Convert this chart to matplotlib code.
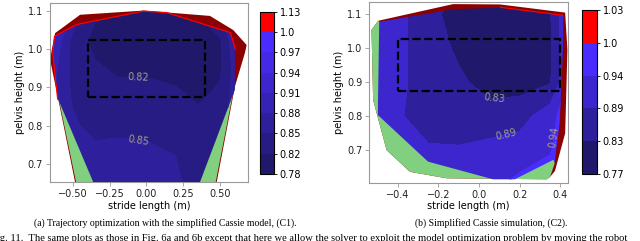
import numpy as np
import matplotlib
matplotlib.use('Agg')
import matplotlib.pyplot as plt
from matplotlib.patches import Polygon, Rectangle
from matplotlib.colors import to_rgb

# ---- panel (a): trajectory optimization, C1 ----
xa = [-0.66, -0.5, -0.35, -0.2, 0.0, 0.2, 0.35, 0.5, 0.7]
ya = [0.65, 0.72, 0.80, 0.88, 0.95, 1.02, 1.12]
za = [[0.90, 0.87, 0.865, 0.865, 0.86, 0.852, 0.845, 0.85, 0.90],
      [0.90, 0.87, 0.86, 0.865, 0.86, 0.85, 0.84, 0.845, 0.90],
      [0.89, 0.855, 0.84, 0.84, 0.84, 0.835, 0.83, 0.835, 0.90],
      [0.89, 0.845, 0.83, 0.83, 0.83, 0.825, 0.815, 0.825, 0.90],
      [0.90, 0.84, 0.825, 0.815, 0.815, 0.81, 0.805, 0.815, 0.90],
      [0.92, 0.84, 0.81, 0.80, 0.80, 0.80, 0.80, 0.815, 0.92],
      [0.97, 0.88, 0.83, 0.82, 0.81, 0.815, 0.83, 0.86, 0.97]]
levels_a = [0.78, 0.82, 0.85, 0.88, 0.91, 0.94, 0.97, 1.0, 1.13]
ticklabels_a = ['0.78', '0.82', '0.85', '0.88', '0.91', '0.94', '0.97', '1.0', '1.13']
hull_a = [(-0.451, 1.090), (-0.020, 1.101), (0.433, 1.087), (0.592, 1.050),
          (0.683, 1.011), (0.671, 0.990), (0.603, 0.902), (0.479, 0.652),
          (-0.485, 0.652), (-0.599, 0.868), (-0.655, 0.972), (-0.644, 0.998),
          (-0.621, 1.042)]
green_a = [(-0.595, 0.868), (-0.478, 0.652), (0.472, 0.652), (0.598, 0.900)]
blue_a = [(-0.599, 0.868), (-0.633, 0.990), (-0.621, 1.033), (-0.473, 1.063),
          (-0.020, 1.098), (0.139, 1.094), (0.569, 1.042), (0.603, 0.998),
          (0.603, 0.894), (0.365, 0.652), (-0.361, 0.652)]
red_edge_a = 8
label_levels_a = [0.82, 0.85]
label_pos_a = [(-0.054, 0.928), (-0.054, 0.770)]
xticks_a = [-0.5, -0.25, 0.0, 0.25, 0.5]

# ---- panel (b): simplified Cassie simulation, C2 ----
xb = [-0.55, -0.4, -0.25, -0.1, 0.05, 0.2, 0.35, 0.45]
yb = [0.60, 0.70, 0.80, 0.90, 1.00, 1.10, 1.14]
zb = [[0.93, 0.92, 0.91, 0.915, 0.93, 0.95, 0.97, 0.99],
      [0.92, 0.91, 0.895, 0.895, 0.91, 0.92, 0.935, 0.99],
      [0.91, 0.895, 0.87, 0.86, 0.85, 0.865, 0.925, 0.97],
      [0.92, 0.90, 0.87, 0.84, 0.81, 0.805, 0.825, 0.96],
      [0.93, 0.905, 0.86, 0.82, 0.795, 0.795, 0.82, 0.96],
      [0.95, 0.91, 0.845, 0.81, 0.795, 0.80, 0.825, 0.97],
      [0.97, 0.92, 0.855, 0.82, 0.81, 0.815, 0.84, 1.0]]
levels_b = [0.77, 0.83, 0.89, 0.94, 1.0, 1.03]
ticklabels_b = ['0.77', '0.83', '0.89', '0.94', '1.0', '1.03']
hull_b = [(-0.496, 1.080), (-0.127, 1.129), (0.103, 1.128), (0.424, 1.104),
          (0.435, 0.994), (0.424, 0.749), (0.374, 0.639), (0.350, 0.621),
          (0.333, 0.614), (-0.159, 0.617), (-0.340, 0.636), (-0.455, 0.700),
          (-0.521, 0.847), (-0.529, 1.053)]
green_b = [(-0.496, 1.080), (-0.529, 1.053), (-0.521, 0.847), (-0.455, 0.700),
           (-0.340, 0.636), (-0.159, 0.617), (0.333, 0.614), (0.350, 0.621),
           (0.372, 0.660), (0.365, 0.700)]
blue_b = [(0.103, 1.118), (0.415, 1.094), (0.414, 1.000), (0.397, 0.778),
          (0.373, 0.666), (0.365, 0.671), (0.176, 0.614), (0.069, 0.614),
          (-0.251, 0.666), (-0.498, 0.803), (-0.491, 1.077), (-0.127, 1.114)]
red_edge_b = 2
label_levels_b = [0.83, 0.89, 0.94]
label_pos_b = [(0.079, 0.823), (0.128, 0.754), (0.358, 0.739)]
xticks_b = [-0.4, -0.2, 0.0, 0.2, 0.4]

box_x = [-0.4, 0.4]
box_y = [0.875, 1.025]
yticks = [0.7, 0.8, 0.9, 1.0, 1.1]

caption_a = '(a) Trajectory optimization with the simplified Cassie model, (C1).'
caption_b = '(b) Simplified Cassie simulation, (C2).'
caption_fig = ('Fig. 11.  The same plots as those in Fig. 6a and 6b except that here we allow '
               'the solver to exploit the model optimization problem by moving the robot')

DARK = '#20196b'
BRIGHT = '#4b2cff'
GREEN = '#80d080'
GRAY = '#999999'


def band_colors(levels):
    dark = np.array(to_rgb(DARK))
    bright = np.array(to_rgb(BRIGHT))
    n_blue = sum(1 for lo in levels[:-1] if lo < 1.0)
    cols = []
    for i, lo in enumerate(levels[:-1]):
        if lo >= 1.0:
            cols.append('red')
        else:
            cols.append(tuple(dark + (bright - dark) * i / (n_blue - 1)))
    return cols


def panel(ax, cax, x, y, z, levels, ticklabels, hull, green, blue, n_red,
          label_levels, label_pos, xticks, xlim, ylim):
    X, Y = np.meshgrid(x, y)
    Z = np.array(z)
    ax.add_patch(Polygon(hull, closed=True, facecolor='darkred', edgecolor='none', zorder=1))
    ax.add_patch(Polygon(green, closed=True, facecolor=GREEN, edgecolor='none', zorder=2))
    red = np.array(blue[:n_red])
    ax.plot(red[:, 0], red[:, 1], color='red', lw=1.8, solid_capstyle='butt', zorder=3)
    clip = Polygon(blue, closed=True, facecolor='none', edgecolor='none')
    ax.add_patch(clip)
    cs = ax.contourf(X, Y, Z, levels=levels, colors=band_colors(levels), zorder=4)
    cs.set_clip_path(clip)
    cl = ax.contour(X, Y, Z, levels=label_levels, linewidths=0, zorder=5)
    ax.clabel(cl, manual=label_pos, fmt='%.2f', colors='#a09f8c', fontsize=7, inline=False)
    ax.add_patch(Rectangle((box_x[0], box_y[0]), box_x[1] - box_x[0], box_y[1] - box_y[0],
                           fill=False, ls='--', lw=1.6, color='black', zorder=6))
    ax.set_xlim(xlim)
    ax.set_ylim(ylim)
    ax.set_xticks(xticks)
    ax.set_yticks(yticks)
    ax.set_xlabel('stride length (m)', fontsize=7, labelpad=1)
    ax.set_ylabel('pelvis height (m)', fontsize=7, labelpad=2)
    ax.tick_params(labelsize=7, length=3, width=0.6, color=GRAY, labelcolor='#222222', pad=2)
    for s in ax.spines.values():
        s.set_color(GRAY)
        s.set_linewidth(0.8)
    cb = plt.colorbar(cs, cax=cax, ticks=levels)
    cb.ax.set_yticklabels(ticklabels)
    cb.ax.tick_params(labelsize=7, length=2.5, width=0.6, pad=1.5)
    cb.outline.set_linewidth(0.8)


fig = plt.figure(figsize=(6.4, 2.41), dpi=100)
ax1 = fig.add_axes([0.0781, 0.2436, 0.3098, 0.7427])
cax1 = fig.add_axes([0.4063, 0.278, 0.0219, 0.6735])
ax2 = fig.add_axes([0.5773, 0.2419, 0.3102, 0.751])
cax2 = fig.add_axes([0.9089, 0.278, 0.0244, 0.6805])

panel(ax1, cax1, xa, ya, za, levels_a, ticklabels_a, hull_a, green_a, blue_a, red_edge_a,
      label_levels_a, label_pos_a, xticks_a, (-0.656, 0.694), (0.652, 1.12))
panel(ax2, cax2, xb, yb, zb, levels_b, ticklabels_b, hull_b, green_b, blue_b, red_edge_b,
      label_levels_b, label_pos_b, xticks_b, (-0.539, 0.438), (0.604, 1.136))

fig.text(0.259, 0.076, caption_a, ha='center', va='center', fontsize=7,
         family='Liberation Serif')
fig.text(0.767, 0.076, caption_b, ha='center', va='center', fontsize=7,
         family='Liberation Serif')
fig.text(-0.0138, 0.002, caption_fig, ha='left', va='baseline', fontsize=7.6,
         family='Liberation Serif')

fig.savefig('out.png', dpi=100)
